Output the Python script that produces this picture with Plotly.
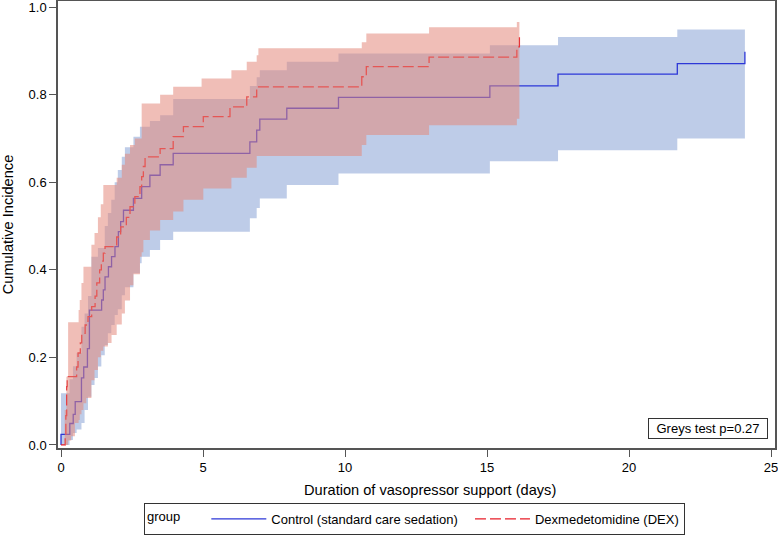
import plotly.graph_objects as go

# ---------------- data ----------------
# Control (standard care sedation): step estimate
ctrl_t = [0.00, 0.00, 0.31, 0.43, 0.50, 0.72, 0.80, 0.93, 1.00, 1.43, 1.49, 1.55, 1.67,
          1.78, 1.90, 2.02, 2.10, 2.20, 2.55, 2.84, 3.13, 3.49, 3.95, 6.65, 6.89, 7.00,
          7.95, 9.77, 15.10, 17.50, 21.70, 24.08]
ctrl_y = [0.000, 0.024, 0.049, 0.070, 0.099, 0.153, 0.178, 0.220, 0.308, 0.331, 0.354,
          0.384, 0.407, 0.430, 0.453, 0.487, 0.510, 0.536, 0.563, 0.590, 0.616, 0.640,
          0.666, 0.692, 0.719, 0.744, 0.769, 0.794, 0.820, 0.847, 0.871, 0.898]
# Control confidence band
ctrl_band_t = [0.00, 0.30, 0.42, 0.55, 0.72, 0.83, 0.95, 1.07, 1.18, 1.30, 1.42, 1.54,
               1.65, 1.77, 1.89, 2.00, 2.14, 2.25, 2.55, 2.78, 2.84, 3.13, 3.49, 3.95,
               6.65, 6.89, 7.00, 7.95, 9.77, 15.10, 17.50, 21.70, 24.08]
ctrl_lo = [0.000, 0.011, 0.027, 0.035, 0.050, 0.080, 0.110, 0.137, 0.153, 0.179, 0.205,
           0.228, 0.255, 0.274, 0.297, 0.310, 0.342, 0.360, 0.392, 0.415, 0.430, 0.445,
           0.468, 0.487, 0.518, 0.541, 0.563, 0.594, 0.620, 0.648, 0.673, 0.700, 0.710]
ctrl_hi = [0.118, 0.150, 0.180, 0.210, 0.270, 0.300, 0.340, 0.430, 0.430, 0.450, 0.450,
           0.500, 0.530, 0.560, 0.600, 0.628, 0.658, 0.680, 0.704, 0.727, 0.727, 0.740,
           0.753, 0.790, 0.820, 0.840, 0.856, 0.875, 0.894, 0.913, 0.932, 0.949, 0.966]

# Dexmedetomidine (DEX): step estimate
dex_t = [0.00, 0.15, 0.17, 0.20, 0.22, 0.55, 0.60, 0.68, 0.73, 0.85, 0.95, 1.08, 1.20,
         1.26, 1.36, 1.42, 1.49, 1.55, 1.96, 2.10, 2.30, 2.43, 2.60, 2.78, 2.84, 2.90,
         2.96, 3.49, 3.95, 4.31, 5.01, 5.95, 6.54, 6.89, 10.59, 10.75, 12.96, 16.05, 16.14]
dex_y = [0.000, 0.022, 0.067, 0.133, 0.156, 0.178, 0.210, 0.233, 0.255, 0.274, 0.293,
         0.316, 0.340, 0.370, 0.400, 0.420, 0.438, 0.453, 0.475, 0.498, 0.520, 0.544,
         0.567, 0.590, 0.613, 0.636, 0.658, 0.677, 0.704, 0.727, 0.750, 0.772, 0.795,
         0.818, 0.841, 0.864, 0.886, 0.909, 0.932]
# DEX confidence band
dex_band_t = [0.00, 0.13, 0.19, 0.25, 0.36, 0.49, 0.62, 0.66, 0.72, 0.79, 0.89, 1.07,
              1.18, 1.30, 1.40, 1.49, 1.65, 1.78, 1.96, 2.14, 2.25, 2.43, 2.55, 2.60,
              2.78, 2.84, 2.90, 3.13, 3.49, 3.95, 4.31, 4.95, 5.01, 6.00, 6.54, 6.89,
              6.95, 10.59, 10.75, 12.96, 16.05, 16.14]
dex_lo = [0.000, 0.000, 0.000, 0.010, 0.020, 0.050, 0.057, 0.070, 0.080, 0.095, 0.107,
          0.148, 0.171, 0.200, 0.215, 0.225, 0.233, 0.251, 0.275, 0.300, 0.330, 0.365,
          0.390, 0.390, 0.430, 0.440, 0.468, 0.490, 0.514, 0.533, 0.560, 0.560, 0.586,
          0.610, 0.633, 0.660, 0.660, 0.685, 0.708, 0.730, 0.745, 0.745]
dex_hi = [0.000, 0.080, 0.156, 0.280, 0.280, 0.280, 0.308, 0.331, 0.370, 0.407, 0.407,
          0.457, 0.484, 0.520, 0.550, 0.594, 0.594, 0.594, 0.610, 0.640, 0.665, 0.685,
          0.685, 0.700, 0.700, 0.780, 0.780, 0.780, 0.800, 0.818, 0.818, 0.837, 0.837,
          0.856, 0.875, 0.890, 0.906, 0.920, 0.940, 0.954, 0.966, 0.982]

x_ticks = [0, 5, 10, 15, 20, 25]
y_ticks = [0.0, 0.2, 0.4, 0.6, 0.8, 1.0]
ctrl_name = "Control (standard care sedation)"
dex_name = "Dexmedetomidine (DEX)"
legend_title = "group"
test_label = "Greys test p=0.27"

# ---------------- styles ----------------
FONT = "Liberation Sans, Arial, Helvetica, sans-serif"
BLUE_LINE = "rgb(45,55,215)"
RED_LINE = "rgb(232,30,40)"
BLUE_FILL = "rgba(70,110,190,0.35)"
RED_FILL = "rgba(227,135,122,0.54)"
AXIS = "#555555"
NBSP = "\u00a0"

fig = go.Figure()

# Control band
fig.add_trace(go.Scatter(x=ctrl_band_t, y=ctrl_lo, mode="lines", line=dict(width=0, shape="hv"),
                         showlegend=False, hoverinfo="skip"))
fig.add_trace(go.Scatter(x=ctrl_band_t, y=ctrl_hi, mode="lines", line=dict(width=0, shape="hv"),
                         fill="tonexty", fillcolor=BLUE_FILL, showlegend=False, hoverinfo="skip"))
# Control estimate (trailing spaces only widen the legend entry spacing)
fig.add_trace(go.Scatter(x=ctrl_t, y=ctrl_y, mode="lines", name=ctrl_name + NBSP * 2,
                         line=dict(color=BLUE_LINE, width=1.3, shape="hv")))
# DEX estimate
fig.add_trace(go.Scatter(x=dex_t, y=dex_y, mode="lines", name=dex_name,
                         line=dict(color=RED_LINE, width=1.3, shape="hv", dash="11px,4px")))
# DEX band (drawn over the lines, as in the reference)
fig.add_trace(go.Scatter(x=dex_band_t, y=dex_lo, mode="lines", line=dict(width=0, shape="hv"),
                         showlegend=False, hoverinfo="skip"))
fig.add_trace(go.Scatter(x=dex_band_t, y=dex_hi, mode="lines", line=dict(width=0, shape="hv"),
                         fill="tonexty", fillcolor=RED_FILL, showlegend=False, hoverinfo="skip"))

axis_common = dict(showgrid=False, zeroline=False, showline=True, linecolor=AXIS, linewidth=1.5,
                   mirror=True, ticks="outside", ticklen=7, tickwidth=1.2, tickcolor=AXIS,
                   automargin=False, ticklabeloverflow="allow",
                   tickfont=dict(size=13, color="black", family=FONT))

fig.update_layout(
    width=778, height=535,
    margin=dict(l=58, r=3, t=1, b=87),
    paper_bgcolor="white", plot_bgcolor="white",
    font=dict(family=FONT, size=13, color="black"),
    xaxis=dict(range=[-0.106, 25.14], tickvals=x_ticks, **axis_common),
    yaxis=dict(range=[-0.007, 1.014], tickvals=y_ticks, tickformat=".1f",
               title=dict(text="Cumulative Incidence", font=dict(size=14.6, color="black"), standoff=12),
               **axis_common),
    legend=dict(orientation="h", xref="container", yref="container",
                x=144 / 778, xanchor="left", y=1 - 503 / 535, yanchor="top",
                bordercolor="#333333", borderwidth=1, bgcolor="white",
                font=dict(size=13, color="black"), itemwidth=55, valign="middle",
                title=dict(text=legend_title + NBSP * 5, side="left",
                           font=dict(size=13, color="black")),
                traceorder="normal"),
    showlegend=True,
)

# x-axis title (centred as in the reference)
fig.add_annotation(text="Duration of vasopressor support (days)", xref="paper", yref="paper",
                   x=0.519, y=-0.094, xanchor="center", yanchor="middle", showarrow=False,
                   font=dict(size=14.6, color="black"))
# test annotation box
fig.add_annotation(text=test_label, xref="paper", yref="paper", x=0.990, y=0.020,
                   xanchor="right", yanchor="bottom", showarrow=False,
                   bordercolor="#333333", borderwidth=1, borderpad=2, bgcolor="white",
                   width=114, font=dict(size=13, color="black"))

# remove the browser's default 8px page margin so the 778x535 figure fills the window
fig.write_html("out.html", config={"displayModeBar": False},
               post_script="document.body.style.margin='0';document.body.style.overflow='hidden';")
